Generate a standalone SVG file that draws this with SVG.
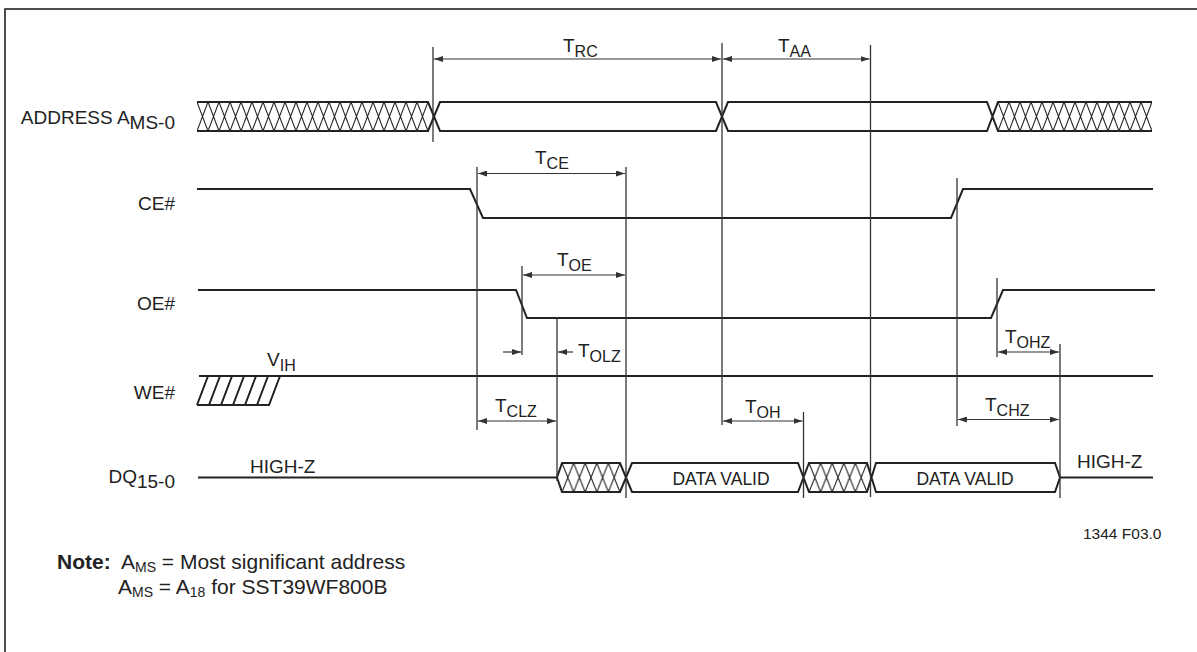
<svg xmlns="http://www.w3.org/2000/svg" width="1197" height="652" viewBox="0 0 1197 652">
<style>
  text { font-family: "Liberation Sans", Arial, Helvetica, sans-serif; fill: #222; }
  .lbl { font-size: 19px; }
  .sub { font-size: 16px; }
  .dv { font-size: 17.5px; }
  .note { font-size: 21px; }
  .nsub { font-size: 14px; }
  .sig { fill: none; stroke: #222; stroke-width: 2; stroke-linejoin: miter; }
  .tl { fill: none; stroke: #333; stroke-width: 1.3; }
  .arr { fill: none; stroke: #333; stroke-width: 1.2; }
  .dbl { marker-start: url(#ah); marker-end: url(#ah); }
  .one { marker-end: url(#ah); }
</style>
<defs>
  <marker id="ah" viewBox="0 0 9 6" refX="9" refY="3" markerWidth="9" markerHeight="6" markerUnits="userSpaceOnUse" orient="auto-start-reverse">
    <path d="M0,0 L9,3 L0,6 z" fill="#333"/>
  </marker>
  <pattern id="hA1" x="197" y="102" width="11" height="29" patternUnits="userSpaceOnUse">
    <path d="M0,0 L11,29 M0,29 L11,0" stroke="#222" stroke-width="1.1" fill="none"/>
  </pattern>
  <pattern id="hA2" x="998" y="102" width="11" height="29" patternUnits="userSpaceOnUse">
    <path d="M0,0 L11,29 M0,29 L11,0" stroke="#222" stroke-width="1.1" fill="none"/>
  </pattern>
  <pattern id="hD1" x="562" y="463" width="11.6" height="29" patternUnits="userSpaceOnUse">
    <path d="M0,0 L11.6,29 M0,29 L11.6,0" stroke="#222" stroke-width="1.1" fill="none"/>
  </pattern>
  <pattern id="hD2" x="809" y="463" width="11.6" height="29" patternUnits="userSpaceOnUse">
    <path d="M0,0 L11.6,29 M0,29 L11.6,0" stroke="#222" stroke-width="1.1" fill="none"/>
  </pattern>
</defs>

<rect x="5" y="9" width="1220" height="680" fill="#fff" stroke="#222" stroke-width="1.6"/>

<g id="address">
  <text class="lbl" x="175" y="124" text-anchor="end">ADDRESS A<tspan dy="5">MS-0</tspan></text>
  <rect x="197" y="102" width="231" height="29" fill="url(#hA1)"/>
  <path class="sig" d="M197,102 H428 L440,131 H716 L728,102 H987 L998,131 H1152 M197,131 H428 L440,102 H716 L728,131 H987 L998,102 H1152"/>
  <rect x="998" y="102" width="154" height="29" fill="url(#hA2)"/>
</g>

<g id="ce">
  <text class="lbl" x="175" y="210" text-anchor="end">CE#</text>
  <polyline class="sig" points="197,189 470,189 483,218 951,218 963,189 1153,189"/>
</g>

<g id="oe">
  <text class="lbl" x="175" y="310" text-anchor="end">OE#</text>
  <polyline class="sig" points="198,290 516,290 527,318 991,318 1003,290 1155,290"/>
</g>

<g id="we">
  <text class="lbl" x="175" y="399" text-anchor="end">WE#</text>
  <text class="lbl" x="267" y="366">V<tspan class="sub" dy="5">IH</tspan></text>
  <line class="sig" x1="199" y1="376" x2="1153" y2="376"/>
  <path class="sig" stroke-width="1.6" d="M197,405 H269 L280,376 M197,405 L208,376 M209,405 L220,376 M221,405 L232,376 M233,405 L244,376 M245,405 L256,376 M257,405 L268,376"/>
</g>

<g id="dq">
  <text class="lbl" x="175" y="483" text-anchor="end">DQ<tspan dy="5">15-0</tspan></text>
  <text class="lbl" x="250" y="472.5">HIGH-Z</text>
  <text class="lbl" x="1077" y="467.5">HIGH-Z</text>
  <rect x="562" y="463" width="58" height="29" fill="url(#hD1)"/>
  <rect x="809" y="463" width="58" height="29" fill="url(#hD2)"/>
  <path class="sig" d="M198,477.5 H557 L562,463 H620 L632,492 H798 L809,463 H867 L876,492 H1055 L1060,477.5 H1153 M557,477.5 L562,492 H620 L632,463 H798 L809,492 H867 L876,463 H1055 L1060,477.5"/>
  <text class="dv" x="721" y="485" text-anchor="middle">DATA VALID</text>
  <text class="dv" x="965" y="485" text-anchor="middle">DATA VALID</text>
</g>

<g id="timing-lines">
  <line class="tl" x1="433" y1="47" x2="433" y2="142"/>
  <line class="tl" x1="722" y1="43" x2="722" y2="425"/>
  <line class="tl" x1="870.5" y1="45" x2="870.5" y2="497"/>
  <line class="tl" x1="477" y1="167" x2="477" y2="430"/>
  <line class="tl" x1="626" y1="167" x2="626" y2="498"/>
  <line class="tl" x1="522" y1="266" x2="522" y2="355"/>
  <line class="tl" x1="557" y1="317" x2="557" y2="481"/>
  <line class="tl" x1="803.5" y1="412" x2="803.5" y2="498"/>
  <line class="tl" x1="957" y1="178" x2="957" y2="426"/>
  <line class="tl" x1="997" y1="278" x2="997" y2="357"/>
  <line class="tl" x1="1060" y1="344" x2="1060" y2="498"/>
</g>

<g id="connectors">
  <line class="arr dbl" x1="434" y1="59" x2="721" y2="59"/>
  <line class="arr dbl" x1="723" y1="59" x2="869.5" y2="59"/>
  <line class="arr dbl" x1="478" y1="173.5" x2="625" y2="173.5"/>
  <line class="arr dbl" x1="523" y1="275" x2="625" y2="275"/>
  <line class="arr one" x1="503" y1="352" x2="521" y2="352"/>
  <line class="arr one" x1="573" y1="352" x2="558" y2="352"/>
  <line class="arr dbl" x1="478" y1="421" x2="556" y2="421"/>
  <line class="arr dbl" x1="723" y1="421" x2="802.5" y2="421"/>
  <line class="arr dbl" x1="998" y1="352" x2="1059" y2="352"/>
  <line class="arr dbl" x1="958" y1="419.5" x2="1059" y2="419.5"/>
</g>

<g id="timing-labels">
  <text class="lbl" x="563" y="51.7">T<tspan class="sub" dy="5">RC</tspan></text>
  <text class="lbl" x="778" y="51.7">T<tspan class="sub" dy="5">AA</tspan></text>
  <text class="lbl" x="535" y="164">T<tspan class="sub" dy="5">CE</tspan></text>
  <text class="lbl" x="557" y="266">T<tspan class="sub" dy="5">OE</tspan></text>
  <text class="lbl" x="578" y="356.7">T<tspan class="sub" dy="5">OLZ</tspan></text>
  <text class="lbl" x="495" y="411.7">T<tspan class="sub" dy="5">CLZ</tspan></text>
  <text class="lbl" x="745" y="412.7">T<tspan class="sub" dy="5">OH</tspan></text>
  <text class="lbl" x="1005" y="342.7">T<tspan class="sub" dy="5">OHZ</tspan></text>
  <text class="lbl" x="985" y="410.7">T<tspan class="sub" dy="5">CHZ</tspan></text>
</g>

<g id="notes">
  <text x="1083" y="539" style="font-size:15.5px">1344 F03.0</text>
  <text class="note" x="57" y="569" font-weight="bold">Note:</text>
  <text class="note" x="121" y="569">A<tspan class="nsub" dy="3">MS</tspan><tspan dy="-3"> = Most significant address</tspan></text>
  <text class="note" x="118" y="594">A<tspan class="nsub" dy="3">MS</tspan><tspan dy="-3"> = A</tspan><tspan class="nsub" dy="3">18</tspan><tspan dy="-3"> for SST39WF800B</tspan></text>
</g>
</svg>
